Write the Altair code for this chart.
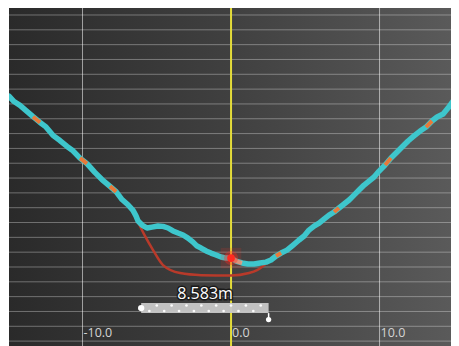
import altair as alt
import pandas as pd

# ---- data (metres) ----
prof_x = [-14.95, -14.61, -14.21, -13.80, -13.33, -12.86, -12.46, -11.99, -11.52, -11.04,
          -10.64, -10.17, -9.70, -9.17, -8.69, -8.15, -7.74, -7.34, -6.94, -6.60,
          -6.40, -6.26, -5.99, -5.66, -5.32, -4.92, -4.58, -4.24, -3.91, -3.57,
          -3.23, -2.90, -2.56, -2.29, -2.02, -1.68, -1.35, -1.01, -0.67, -0.34,
          0.00, 0.34, 0.74, 1.14, 1.55, 1.95, 2.36, 2.69, 3.03, 3.37,
          3.77, 4.18, 4.58, 4.92, 5.25, 5.59, 5.93, 6.26, 6.60, 6.94,
          7.27, 7.61, 7.95, 8.28, 8.62, 8.96, 9.29, 9.63, 9.97, 10.37,
          10.77, 11.18, 11.58, 11.92, 12.32, 12.73, 13.13, 13.53, 13.87, 14.28,
          14.61, 14.95, 15.35]
prof_y = [-5.47, -5.84, -6.10, -6.45, -6.86, -7.25, -7.55, -8.12, -8.47, -8.87,
          -9.16, -9.66, -10.03, -10.62, -11.10, -11.56, -11.92, -12.45, -12.80, -13.18,
          -13.55, -13.90, -14.17, -14.37, -14.31, -14.24, -14.26, -14.37, -14.57, -14.71,
          -14.84, -15.05, -15.32, -15.59, -15.72, -15.92, -16.06, -16.19, -16.33, -16.40,
          -16.40, -16.60, -16.73, -16.80, -16.80, -16.73, -16.67, -16.53, -16.26, -16.06,
          -15.86, -15.52, -15.18, -14.91, -14.51, -14.24, -14.04, -13.77, -13.50, -13.29,
          -13.02, -12.75, -12.48, -12.15, -11.81, -11.47, -11.20, -10.93, -10.53, -10.12,
          -9.65, -9.24, -8.84, -8.50, -8.16, -7.83, -7.56, -7.15, -6.88, -6.68,
          -6.28, -5.80, -5.33]
# index ranges of the profile drawn in orange
orange_ranges = [(4, 5), (11, 12), (15, 16), (48, 49), (59, 60), (69, 70), (76, 77)]
pale_ranges = [(40, 42)]

trench_x = [-6.33, -5.85, -5.25, -4.58, -3.43, -2.00, 0.00, 1.21, 1.75, 2.15, 2.49]
trench_y = [-13.83, -14.80, -15.86, -16.87, -17.41, -17.55, -17.58, -17.41, -17.21, -16.94, -16.67]

marker_x = [0.0]
marker_y = [-16.40]

bar_x0, bar_x1 = -6.05, 2.53
bar_y0, bar_y1 = -19.43, -20.11
bar_label = "8.583m"
bar_label_x, bar_label_y = -1.75, -18.83
dots_top = [-5, -4, -3, -2, -1, 0, 1, 2]
dots_bot = [-5.5, -4.5, -3.5, -2.5, -1.5, -0.5, 0.5, 1.5]

grid_y = list(range(0, -23, -1))
grid_x = [-10, 10]
tick_vals = [-10, 0, 10]
tick_labels = ["-10.0", "0.0", "10.0"]
tick_label_y = -21.73

XDOM = [-14.95, 14.81]
YDOM = [-22.33, 0.742]
W, H = 442, 342

xs = alt.Scale(domain=XDOM, nice=False, zero=False)
ys = alt.Scale(domain=YDOM, nice=False, zero=False)
X = lambda f="x": alt.X(f"{f}:Q", scale=xs, axis=None)
Y = lambda f="y": alt.Y(f"{f}:Q", scale=ys, axis=None)

prof = pd.DataFrame({"x": prof_x, "y": prof_y})
def segs(ranges):
    rows = []
    for k, (a, b) in enumerate(ranges):
        for i in range(a, b + 1):
            rows.append({"x": prof_x[i], "y": prof_y[i], "seg": k, "o": i})
    return pd.DataFrame(rows)
orange = segs(orange_ranges)
pale = segs(pale_ranges)
trench = pd.DataFrame({"x": trench_x, "y": trench_y})
marker = pd.DataFrame({"x": marker_x, "y": marker_y})
one = pd.DataFrame({"a": [0]})

bg = alt.Chart(one).mark_rect(
    color=alt.Gradient(gradient="linear",
                       stops=[alt.GradientStop(color="#2a2a2a", offset=0),
                              alt.GradientStop(color="#404040", offset=0.5),
                              alt.GradientStop(color="#5a5a5a", offset=1)],
                       x1=0, x2=1, y1=0, y2=0)
).encode(x=alt.value(0), x2=alt.value(W), y=alt.value(0), y2=alt.value(H))

hgrid = alt.Chart(pd.DataFrame({"y": grid_y})).mark_rule(
    color="white", opacity=0.33, strokeWidth=1).encode(y=Y())
vgrid = alt.Chart(pd.DataFrame({"x": grid_x})).mark_rule(
    color="white", opacity=0.55, strokeWidth=1).encode(x=X())
yellow = alt.Chart(pd.DataFrame({"x": [0]})).mark_rule(
    color="#e4dc3a", strokeWidth=2).encode(x=X())

ticks = alt.Chart(pd.DataFrame({"x": tick_vals, "y": [tick_label_y] * 3, "t": tick_labels})).mark_text(
    align="left", baseline="alphabetic", dx=1, fontSize=12.5, font="Open Sans", color="#d4d4d4"
).encode(x=X(), y=Y(), text="t:N")

trench_line = alt.Chart(trench).mark_line(
    color="#b83a2a", strokeWidth=2.5, interpolate="monotone").encode(x=X(), y=Y())

cyan = alt.Chart(prof).mark_line(
    color="#3ec6cc", strokeWidth=5.5, strokeCap="round", strokeJoin="round", clip=True).encode(
    x=X(), y=Y(), order="x:Q")
org = alt.Chart(orange).mark_line(
    color="#e8793a", strokeWidth=4, strokeCap="butt", opacity=1, clip=True).encode(
    x=X(), y=Y(), detail="seg:N", order="o:Q")
pl = alt.Chart(pale).mark_line(
    color="#dda488", strokeWidth=4, strokeCap="butt", opacity=0.95, clip=True).encode(
    x=X(), y=Y(), detail="seg:N", order="o:Q")

glow_sq = alt.Chart(marker).mark_point(shape="square", filled=True, color="#ff3020",
                                      opacity=0.15, size=420).encode(x=X(), y=Y())
glow = alt.Chart(marker).mark_circle(color="#ff2a20", opacity=0.35, size=200).encode(x=X(), y=Y())
dot = alt.Chart(marker).mark_circle(color="#ff2a20", opacity=1, size=60).encode(x=X(), y=Y())

bar = alt.Chart(pd.DataFrame({"x": [bar_x0], "x2": [bar_x1], "y": [bar_y0], "y2": [bar_y1]})).mark_rect(
    color="#c8c8c8", opacity=0.95).encode(x=X(), x2="x2:Q", y=Y(), y2="y2:Q")
bdots = alt.Chart(pd.DataFrame({
    "x": dots_top + dots_bot,
    "y": [-19.60] * len(dots_top) + [-19.97] * len(dots_bot)})).mark_circle(
    color="white", size=7, opacity=0.95).encode(x=X(), y=Y())
ends = alt.Chart(pd.DataFrame({"x": [bar_x0, bar_x1], "y": [-19.77, -20.55], "s": [40, 28]})).mark_circle(
    color="white", opacity=1).encode(x=X(), y=Y(), size=alt.Size("s:Q", scale=None, legend=None))
endtick = alt.Chart(pd.DataFrame({"x": [bar_x1], "y": [bar_y1], "y2": [-20.55]})).mark_rule(
    color="white", strokeWidth=1.5).encode(x=X(), y=Y(), y2="y2:Q")
lab_df = pd.DataFrame({"x": [bar_label_x], "y": [bar_label_y], "t": [bar_label]})
lab_shadow = alt.Chart(lab_df).mark_text(
    fontSize=16, font="Open Sans", color="#111111", stroke="#111111", strokeWidth=3,
    baseline="middle", align="center", opacity=0.8).encode(x=X(), y=Y(), text="t:N")
lab = alt.Chart(lab_df).mark_text(
    fontSize=16, font="Open Sans", color="white", baseline="middle", align="center").encode(
    x=X(), y=Y(), text="t:N")

chart = alt.layer(
    bg, hgrid, vgrid, yellow, ticks, trench_line, cyan, pl, org,
    glow_sq, glow, dot, bar, bdots, endtick, ends, lab_shadow, lab
).properties(
    width=W, height=H,
    padding={"left": 1, "top": -4, "right": 0, "bottom": 0},
    autosize=alt.AutoSizeParams(type="none"),
    background="white"
).configure_view(stroke=None)

chart.save("out.html", embed_options={"renderer": "svg", "actions": False})
